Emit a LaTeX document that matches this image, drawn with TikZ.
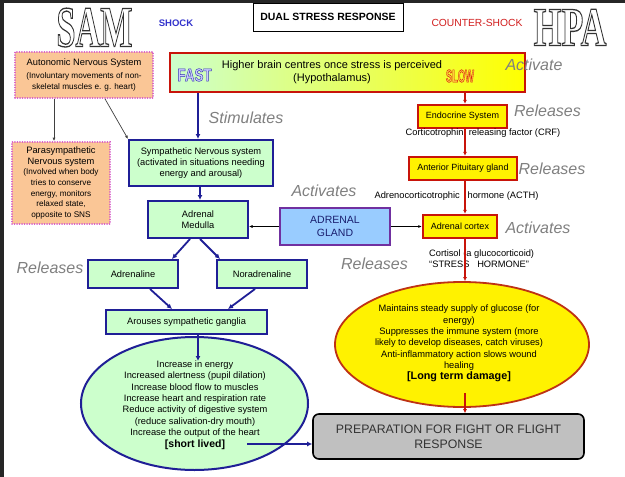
\documentclass[tikz,border=0pt]{standalone}
\usepackage{fontspec}
\setmainfont{Liberation Sans}
\newfontfamily\wildfont{Liberation Serif}
\usetikzlibrary{arrows.meta,shapes.geometric,shadings}
\definecolor{navyline}{RGB}{31,31,150}
\definecolor{mintfill}{RGB}{204,255,204}
\definecolor{hpared}{RGB}{200,20,10}
\definecolor{peachfill}{RGB}{250,198,150}
\definecolor{dotpink}{RGB}{214,90,200}
\definecolor{glandfill}{RGB}{153,204,255}
\definecolor{glandline}{RGB}{112,48,160}
\definecolor{glandtext}{RGB}{25,30,110}
\definecolor{labelgray}{RGB}{128,128,128}
\definecolor{prepfill}{RGB}{192,192,192}
\definecolor{shockblue}{RGB}{51,51,204}
\definecolor{shockred}{RGB}{210,30,30}
\definecolor{ovalred}{RGB}{190,50,20}
\definecolor{fastfill}{RGB}{205,205,255}
\definecolor{slowfill}{RGB}{255,205,60}
\newcommand{\bodyfont}{\fontsize{9.3}{11.3}\selectfont}
\newcommand{\smallbody}{\fontsize{8.2}{10.6}\selectfont}
\newcommand{\yelfont}{\fontsize{9}{11}\selectfont}
% hollow letters: #1 pdf render settings, #2 word
\newcommand{\hollowword}[2]{\special{pdf:literal direct #1}#2\special{pdf:literal direct 0 Tr}}

\begin{document}
\begin{tikzpicture}[x=1pt,y=1pt,
greenbox/.style={draw=navyline,line width=2pt,fill=mintfill,inner sep=0pt,align=center,font=\bodyfont},
yellowbox/.style={draw=hpared,line width=2.4pt,fill=yellow,inner sep=0pt,align=center,font=\yelfont},
ansbox/.style={draw=dotpink,line width=1.7pt,dash pattern=on 0.1pt off 2.4pt,line cap=round,fill=peachfill,inner sep=0pt,align=center,font=\smallbody},
lbl/.style={font=\fontsize{16}{18}\selectfont\itshape,text=labelgray,inner sep=0pt},
txt/.style={font=\bodyfont,inner sep=0pt,align=center},
bluearr/.style={-{Latex[length=5pt,width=5pt]},draw=navyline,line width=1.8pt},
redarr/.style={-{Latex[length=4pt,width=4pt]},draw=hpared,line width=1.4pt},
thinarr/.style={-{Latex[length=3.5pt,width=3pt]},draw=black!75,line width=0.7pt}]
\useasboundingbox (0,0) rectangle (625,-477);
\fill[white] (0,0) rectangle (625,-477);
\fill[black!85] (0,0) rectangle (625,-3);
\fill[black!85] (0,0) rectangle (4,-477);

% headings
\node[text=black!80,inner sep=0pt,text height=38pt,text depth=0pt] (sam) at (94.5,-27.5)
  {\scalebox{0.59}[1]{\wildfont\bfseries\fontsize{58}{58}\selectfont\hollowword{1 Tr 1.3 w}{SAM}}};
\node[text=black!80,inner sep=0pt,text height=36pt,text depth=0pt] (hpa) at (570,-27.5)
  {\scalebox{0.65}[1]{\wildfont\bfseries\fontsize{55}{55}\selectfont\hollowword{1 Tr 1.3 w}{HPA}}};
\node[font=\bfseries\fontsize{9.5}{11}\selectfont,text=shockblue] (shock) at (176,-23) {SHOCK};
\node[font=\fontsize{10.3}{12}\selectfont,text=shockred] (counter) at (477,-23) {COUNTER-SHOCK};
\node[draw,line width=0.8pt,minimum width=150pt,minimum height=28pt,inner sep=0pt,font=\bfseries\fontsize{10.5}{12}\selectfont] (title) at (328,-17) {DUAL STRESS RESPONSE};

% SAM side
\node[ansbox,minimum width=138pt,minimum height=46pt] (ans) at (84,-75)
  {{\fontsize{9.3}{10.6}\selectfont Autonomic Nervous System}\\[2.5pt](Involuntary movements of non-\\skeletal muscles e. g. heart)};
\node[ansbox,minimum width=98pt,minimum height=82pt] (para) at (61,-183)
  {{\fontsize{9.3}{10.6}\selectfont Parasympathetic}\\{\fontsize{9.3}{10.6}\selectfont Nervous system}\\(Involved when body\\tries to conserve\\energy, monitors\\relaxed state,\\opposite to SNS};
\node[draw=hpared,line width=2.6pt,left color=mintfill,right color=yellow,minimum width=355pt,minimum height=39pt,inner sep=0pt] (hypo) at (347.5,-72.5) {};
\node[font=\fontsize{11}{13}\selectfont,align=center,inner sep=0pt] (hypotext) at (332,-72.5) {Higher brain centres once stress is perceived\\(Hypothalamus)};
\node[text=fastfill,inner sep=0pt] (fast) at (194.5,-75)
  {\scalebox{0.74}[1]{\bfseries\fontsize{18}{18}\selectfont\hollowword{2 Tr 0.5 w 0.2 0.2 0.7 RG}{FAST}}};
\node[text=slowfill,inner sep=0pt] (slow) at (460,-76)
  {\scalebox{0.52}[1]{\bfseries\fontsize{18}{18}\selectfont\hollowword{2 Tr 0.6 w 0.85 0.15 0.05 RG}{SLOW}}};
\node[greenbox,minimum width=144pt,minimum height=46pt] (sns) at (201,-163)
  {Sympathetic Nervous system\\(activated in situations needing\\energy and arousal)};
\node[greenbox,minimum width=100pt,minimum height=37pt] (medulla) at (198,-219.5) {Adrenal\\Medulla};
\node[draw=glandline,line width=2pt,fill=glandfill,minimum width=110pt,minimum height=37pt,inner sep=0pt,align=center,text=glandtext,font=\fontsize{10.5}{12.5}\selectfont] (gland) at (335,-226.5) {ADRENAL\\GLAND};
\node[greenbox,minimum width=90pt,minimum height=28pt] (adrenaline) at (133,-274) {Adrenaline};
\node[greenbox,minimum width=90pt,minimum height=28pt] (noradrenaline) at (262,-274) {Noradrenaline};
\node[greenbox,minimum width=161pt,minimum height=24pt] (arouses) at (186.5,-322) {Arouses sympathetic ganglia};
\node[ellipse,draw=navyline,line width=2pt,fill=mintfill,minimum width=227pt,minimum height=133pt,inner sep=0pt] (sympoval) at (194.5,-403.5) {};
\node[txt,font=\fontsize{9.3}{11.4}\selectfont] (symptext) at (195,-405)
  {Increase in energy\\Increased alertness (pupil dilation)\\Increase blood flow to muscles\\Increase heart and respiration rate\\Reduce activity of digestive system\\(reduce salivation-dry mouth)\\Increase the output of the heart\\{\bfseries\fontsize{10.5}{12}\selectfont [short lived]}};

% HPA side
\node[yellowbox,minimum width=89pt,minimum height=23pt] (endo) at (462.5,-116.5) {Endocrine System};
\node[yellowbox,minimum width=108pt,minimum height=23pt] (pit) at (463,-168.5) {Anterior Pituitary gland};
\node[yellowbox,minimum width=74pt,minimum height=23pt] (cortex) at (460,-226.5) {Adrenal cortex};
\node[txt] (crf) at (483,-133) {Corticotrophin\ \ releasing factor (CRF)};
\node[txt] (acth) at (456.5,-196) {Adrenocorticotrophic\ \ \ hormone (ACTH)};
\node[txt,align=left,anchor=west] (cortisol) at (429,-259) {Cortisol (a glucocorticoid)\\``STRESS\ \ \ HORMONE''};
\node[ellipse,draw=ovalred,line width=1.8pt,fill=yellow,minimum width=254pt,minimum height=125pt,inner sep=0pt] (cortoval) at (462,-344.5) {};
\node[txt] (corttext) at (459,-343.5)
  {Maintains steady supply of glucose (for\\energy)\\Suppresses the immune system (more\\likely to develop diseases, catch viruses)\\Anti-inflammatory action slows wound\\healing\\{\bfseries\fontsize{10.8}{13}\selectfont [Long term damage]}};
\node[draw,line width=1.6pt,fill=prepfill,rounded corners=6pt,minimum width=271pt,minimum height=45pt,inner sep=0pt,align=center,text=black!80,font=\fontsize{12.3}{15}\selectfont] (prep) at (448.5,-436.5) {PREPARATION FOR FIGHT OR FLIGHT\\RESPONSE};

% grey verbs
\node[lbl] (stimulates) at (246,-118) {Stimulates};
\node[lbl] (activates1) at (324,-191) {Activates};
\node[lbl] (releases1) at (50,-268) {Releases};
\node[lbl] (releases2) at (374.5,-264) {Releases};
\node[lbl] (activate) at (534,-65) {Activate};
\node[lbl] (releases3) at (547.5,-111) {Releases};
\node[lbl] (releases4) at (552,-169) {Releases};
\node[lbl] (activates2) at (538,-228) {Activates};

% connectors
\coordinate (redline) at (465,0);
\coordinate (energytip) at (198,-361);
\coordinate (shortlived) at (247,-444);
\coordinate (ovalfoot) at (465,-393);
\draw[thinarr] ([xshift=-30pt]ans.south) -- ([xshift=-7pt]para.north);
\draw[thinarr] ([xshift=21pt]ans.south) -- (sns.north west);
\draw[bluearr] (hypo.south -| energytip) -- (sns.north -| energytip);
\draw[bluearr] ([xshift=-1pt]sns.south) -- ([xshift=2pt]medulla.north);
\draw[bluearr] ([xshift=-8pt]medulla.south) -- ([xshift=39pt]adrenaline.north);
\draw[bluearr] ([xshift=2pt]medulla.south) -- ([xshift=-42pt]noradrenaline.north);
\draw[bluearr] ([xshift=17pt]adrenaline.south) -- ([xshift=-14.5pt]arouses.north);
\draw[bluearr] ([xshift=-7pt]noradrenaline.south) -- ([xshift=41.5pt]arouses.north);
\draw[bluearr] (arouses.south -| energytip) -- (energytip);
\draw[bluearr] (shortlived) -- (shortlived -| prep.west);
\draw[thinarr,draw=black] (gland.west) -- (gland.west -| medulla.east);
\draw[thinarr,draw=black] (gland.east) -- (gland.east -| cortex.west);
\draw[redarr] (hypo.south -| redline) -- (endo.north -| redline);
\draw[redarr] (endo.south -| redline) -- (pit.north -| redline);
\draw[redarr] (pit.south -| redline) -- (cortex.north -| redline);
\draw[redarr] (cortex.south -| redline) -- (cortoval.north -| redline);
\draw[redarr] (ovalfoot) -- (ovalfoot |- prep.north);
\end{tikzpicture}
\end{document}
